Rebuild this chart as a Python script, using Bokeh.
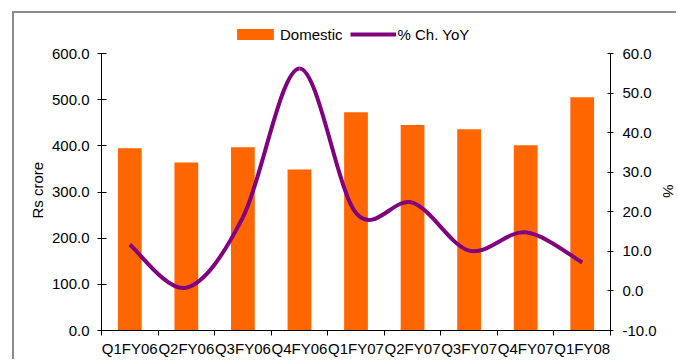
from bokeh.plotting import figure
from bokeh.models import (Range1d, LinearAxis, FixedTicker, NumeralTickFormatter,
                          Legend, LegendItem, ColumnDataSource, Title)
from bokeh.embed import file_html
from bokeh.resources import INLINE

# ---- data ----
quarters = ["Q1FY06", "Q2FY06", "Q3FY06", "Q4FY06", "Q1FY07",
            "Q2FY07", "Q3FY07", "Q4FY07", "Q1FY08"]
domestic = [395.0, 364.0, 397.0, 349.0, 473.0, 445.0, 436.0, 401.0, 505.0]
pct_yoy = [11.7, 0.8, 18.6, 56.2, 19.7, 22.3, 10.2, 14.8, 7.2]
left_ticks = [0, 100, 200, 300, 400, 500, 600]
right_ticks = [-10, 0, 10, 20, 30, 40, 50, 60]

FONT = "Liberation Sans"
ORANGE = "#FF6600"
PURPLE = "#800080"

n = len(quarters)
xc = [i + 0.5 for i in range(n)]

# frame: 317 px tall; axes occupy the lower 277 px, legend sits in the top 40 px
AX_PX, HEAD_PX = 277, 40
l0, l1 = left_ticks[0], left_ticks[-1]
r0, r1 = right_ticks[0], right_ticks[-1]
left_top = l1 + (l1 - l0) * HEAD_PX / AX_PX
right_top = r1 + (r1 - r0) * HEAD_PX / AX_PX

p = figure(width=664, height=348, output_backend="svg", toolbar_location=None,
           x_range=Range1d(0, n), y_range=Range1d(l0, left_top),
           min_border_left=87, min_border_right=65, min_border_top=0,
           min_border_bottom=31)
p.styles = {"margin-left": "12px", "margin-top": "11px",
            "border-left": "2px solid #8c8c8c", "border-top": "2px solid #8c8c8c"}
p.outline_line_color = None
p.grid.visible = False
p.background_fill_color = "white"
p.border_fill_color = "white"

p.extra_y_ranges = {"pct": Range1d(r0, right_top)}

src = ColumnDataSource(dict(x=xc, top=domestic))
bars = p.vbar(x="x", top="top", width=0.42, bottom=0, source=src,
              fill_color=ORANGE, line_color=None)

# smooth (Excel-like) curve through the % points via cubic beziers
def ext(v, i):
    return v[max(0, min(len(v) - 1, i))]

x0, y0, x1, y1, cx0, cy0, cx1, cy1 = [], [], [], [], [], [], [], []
for i in range(n - 1):
    x0.append(xc[i]); y0.append(pct_yoy[i])
    x1.append(xc[i + 1]); y1.append(pct_yoy[i + 1])
    cx0.append(xc[i] + (ext(xc, i + 1) - ext(xc, i - 1)) / 6)
    cy0.append(pct_yoy[i] + (ext(pct_yoy, i + 1) - ext(pct_yoy, i - 1)) / 6)
    cx1.append(xc[i + 1] - (ext(xc, i + 2) - ext(xc, i)) / 6)
    cy1.append(pct_yoy[i + 1] - (ext(pct_yoy, i + 2) - ext(pct_yoy, i)) / 6)
bsrc = ColumnDataSource(dict(x0=x0, y0=y0, x1=x1, y1=y1, cx0=cx0, cy0=cy0, cx1=cx1, cy1=cy1))
curve = p.bezier(x0="x0", y0="y0", x1="x1", y1="y1", cx0="cx0", cy0="cy0",
                 cx1="cx1", cy1="cy1", source=bsrc, line_color=PURPLE,
                 line_width=4, y_range_name="pct")

def style_axis(ax):
    ax.axis_line_color = "black"
    ax.major_tick_line_color = "black"
    ax.minor_tick_line_color = None
    ax.major_label_text_font = FONT
    ax.major_label_text_font_size = "15px"
    ax.major_label_text_color = "black"

# x axis: labels at category centres, ticks at category boundaries
xa = p.xaxis[0]
style_axis(xa)
xa.ticker = FixedTicker(ticks=xc, minor_ticks=list(range(n + 1)))
xa.major_label_overrides = {x: q for x, q in zip(xc, quarters)}
xa.major_tick_line_color = None
xa.minor_tick_line_color = "black"
xa.minor_tick_in = 0
xa.minor_tick_out = 5
xa.major_tick_out = 5
xa.major_tick_in = 0
xa.major_label_standoff = 4

ya = p.yaxis[0]
style_axis(ya)
ya.ticker = FixedTicker(ticks=left_ticks)
ya.formatter = NumeralTickFormatter(format="0.0")
ya.bounds = (l0, l1)
ya.major_tick_in = 5
ya.major_tick_out = 4
ya.major_label_standoff = 8

ra = LinearAxis(y_range_name="pct")
style_axis(ra)
ra.ticker = FixedTicker(ticks=right_ticks)
ra.formatter = NumeralTickFormatter(format="0.0")
ra.bounds = (r0, r1)
ra.major_tick_in = 3
ra.major_tick_out = 3
ra.major_label_standoff = 9
p.add_layout(ra, "right")

# axis titles, placed along the axis span (below the legend band)
p.add_layout(Title(text="Rs crore", align="left", offset=112, standoff=6,
                   text_font=FONT, text_font_size="15px", text_font_style="normal",
                   text_color="black"), "left")
p.add_layout(Title(text="%", align="left", offset=171, standoff=0,
                   text_font=FONT, text_font_size="15px", text_font_style="normal",
                   text_color="black"), "right")

legend = Legend(items=[LegendItem(label="Domestic", renderers=[bars]),
                       LegendItem(label="% Ch. YoY", renderers=[curve])],
                orientation="horizontal", location=(131, 286),
                glyph_width=46, glyph_height=14, label_standoff=2, spacing=7,
                padding=0, margin=0, border_line_color=None,
                background_fill_alpha=0, label_text_font=FONT,
                label_text_font_size="15px", label_text_color="black",
                label_height=20)
p.add_layout(legend, "center")

open("out.html", "w").write(file_html(p, INLINE))
